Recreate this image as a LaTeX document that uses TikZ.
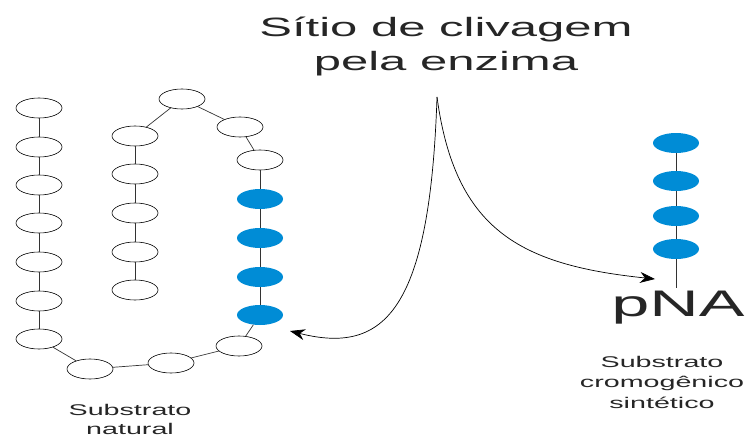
\documentclass[tikz,border=0pt]{standalone}
\usepackage{fontspec}
\setmainfont{Liberation Sans}
\usetikzlibrary{shapes.geometric, arrows.meta}

\definecolor{beadblue}{RGB}{0,140,214}

\tikzset{
  bead/.style = {ellipse, draw=black, line width=.6pt, fill=white,
                 minimum width=46pt, minimum height=20pt, inner sep=0pt},
  bluebead/.style = {bead, draw=none, fill=beadblue},
  link/.style = {line width=.7pt, draw=black!80},
  stretched/.style = {align=center, xscale=1.85, inner sep=0pt, text=black!85},
  cleave/.style = {line width=.7pt, -{Stealth[length=15pt, width=11pt]}}
}

\begin{document}
\begin{tikzpicture}[x=1pt, y=-1pt]
        \useasboundingbox (0,0) rectangle (746,441);
        % substrato natural
        \foreach \n/\px/\py/\s in {1/39/108/bead, 2/39/147/bead, 3/39/185/bead,
            4/39/223/bead, 5/39/262/bead, 6/39/301/bead, 7/39/339/bead,
            8/90/369/bead, 9/171/363/bead, 10/239/346/bead,
            11/260/315/bluebead, 12/260/277/bluebead, 13/260/238/bluebead,
            14/260/199/bluebead, 15/260/160/bead, 16/240/127/bead,
            17/182/99/bead, 18/135/136/bead, 19/135/174/bead,
            20/135/213/bead, 21/135/252/bead, 22/135/290/bead}
          \node[\s] (n\n) at (\px,\py) {};
        \foreach \a [evaluate=\a as \b using int(\a+1)] in {1,...,21}
          \draw[link] (n\a) -- (n\b);
        % substrato sintetico
        \foreach \n/\py in {1/143, 2/181, 3/216, 4/249}
          \node[bluebead] (r\n) at (676,\py) {};
        \coordinate (rend) at (676,288);
        \draw[link] (r1) -- (r2);
        \draw[link] (r2) -- (r3);
        \draw[link] (r3) -- (r4);
        \draw[link] (r4) -- (rend);
        \node[stretched, font=\fontsize{37}{40}\selectfont, anchor=base] (pna) at (678,316) {pNA};
        % sitio de clivagem
        \coordinate (cut) at (437,97);
        \coordinate (hitnat) at (290,331);
        \coordinate (hitsyn) at (655,279);
        \draw[cleave] (cut) .. controls (430,310) and (385,355) .. (hitnat);
        \draw[cleave] (cut) .. controls (455,230) and (520,265) .. (hitsyn);
        % textos
        \node[stretched, font=\fontsize{26.5}{34}\selectfont] (title) at (446,46) {Sítio de clivagem\\pela enzima};
        \node[stretched, font=\fontsize{15.5}{20.5}\selectfont] (synlabel) at (662,382) {Substrato\\cromogênico\\sintético};
        \node[stretched, font=\fontsize{15.5}{19}\selectfont] (natlabel) at (130,419) {Substrato\\natural};
      \end{tikzpicture}
\end{document}
